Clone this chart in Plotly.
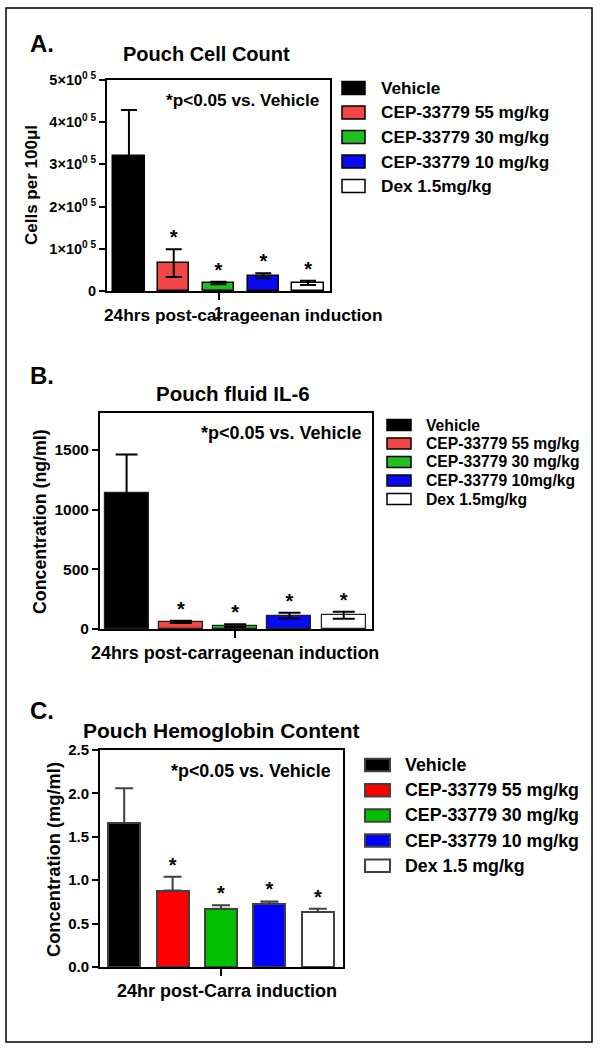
import plotly.graph_objects as go

W, H = 600, 1050
FONT = "Liberation Sans, Arial, Helvetica, sans-serif"

# ---------------- data ----------------
positions = [0, 1, 2, 3, 4]

legend_a = ["Vehicle", "CEP-33779 55 mg/kg", "CEP-33779 30 mg/kg", "CEP-33779 10 mg/kg", "Dex 1.5mg/kg"]
legend_b = ["Vehicle", "CEP-33779 55 mg/kg", "CEP-33779 30 mg/kg", "CEP-33779 10mg/kg", "Dex 1.5mg/kg"]
legend_c = ["Vehicle", "CEP-33779 55 mg/kg", "CEP-33779 30 mg/kg", "CEP-33779 10 mg/kg", "Dex 1.5 mg/kg"]

cells = [3.2e5, 0.66e5, 0.19e5, 0.36e5, 0.19e5]
cells_err = [1.09e5, 0.33e5, 0.03e5, 0.06e5, 0.05e5]
cells_sig = ["", "*", "*", "*", "*"]

il6 = [1140, 60, 28, 112, 115]
il6_err = [322, 10, 12, 25, 30]
il6_sig = ["", "*", "*", "*", "*"]

hb = [1.66, 0.88, 0.67, 0.73, 0.635]
hb_err = [0.40, 0.16, 0.04, 0.025, 0.035]
hb_sig = ["", "*", "*", "*", "*"]

a_ticks = [0, 1e5, 2e5, 3e5, 4e5, 5e5]
a_ticktext = ["0", "1×10<sup>0 5</sup>", "2×10<sup>0 5</sup>", "3×10<sup>0 5</sup>",
              "4×10<sup>0 5</sup>", "5×10<sup>0 5</sup>"]
b_ticks = [0, 500, 1000, 1500]
c_ticks = [0.0, 0.5, 1.0, 1.5, 2.0, 2.5]
c_ticktext = ["0.0", "0.5", "1.0", "1.5", "2.0", "2.5"]

colors_a = ["#000000", "#f24646", "#1fbf1f", "#0a0af2", "#ffffff"]
colors_b = ["#000000", "#f24646", "#1fbf1f", "#0a0af2", "#ffffff"]
colors_c = ["#000000", "#ff0000", "#00c000", "#0000ff", "#ffffff"]


def px(x):
    return x / W


def py(y):
    return 1 - y / H


fig = go.Figure()

panels = [
    dict(ax="", vals=cells, err=cells_err, sig=cells_sig, colors=colors_a, line="#000000",
         lw=1.5, bw=0.7, sym=True, ecol="#000000", capw=8,
         xdom=(107, 330), ydom=(291, 80), xr=[-0.49, 4.49], yr=[0, 5e5],
         ticks=a_ticks, ticktext=a_ticktext, tickfs=14.5, xtick="1"),
    dict(ax="2", vals=il6, err=il6_err, sig=il6_sig, colors=colors_b, line="#222222",
         lw=1.2, bw=0.81, sym=True, ecol="#000000", capw=11,
         xdom=(100, 372), ydom=(629, 413), xr=[-0.49, 4.52], yr=[0, 1810],
         ticks=b_ticks, ticktext=[str(t) for t in b_ticks], tickfs=15.5, xtick=None),
    dict(ax="3", vals=hb, err=hb_err, sig=hb_sig, colors=colors_c, line="#404040",
         lw=2, bw=0.66, sym=False, ecol="#404040", capw=9,
         xdom=(100, 343), ydom=(967, 750), xr=[-0.5, 4.52], yr=[0, 2.5],
         ticks=c_ticks, ticktext=c_ticktext, tickfs=15, xtick=None),
]

layout_axes = {}
for p in panels:
    xa = "x" + p["ax"]
    ya = "y" + p["ax"]
    if p["sym"]:
        ey = dict(type="data", array=p["err"], symmetric=True, color=p["ecol"],
                  thickness=2, width=p["capw"])
    else:
        ey = dict(type="data", array=p["err"], arrayminus=[0] * len(p["err"]),
                  symmetric=False, color=p["ecol"], thickness=2, width=p["capw"])
    fig.add_trace(go.Bar(
        x=positions, y=p["vals"], width=p["bw"], xaxis=xa, yaxis=ya,
        marker=dict(color=p["colors"], line=dict(color=p["line"], width=p["lw"])),
        error_y=ey, showlegend=False, hoverinfo="skip",
    ))
    idx = [i for i, s in enumerate(p["sig"]) if s]
    fig.add_trace(go.Scatter(
        x=[positions[i] for i in idx],
        y=[p["vals"][i] + p["err"][i] for i in idx],
        mode="text", text=[p["sig"][i] for i in idx], textposition="top center",
        textfont=dict(size=20, color="black", family=FONT),
        xaxis=xa, yaxis=ya, showlegend=False, hoverinfo="skip", cliponaxis=False,
    ))
    xaxis = dict(
        domain=[px(p["xdom"][0]), px(p["xdom"][1])], range=p["xr"], anchor=ya,
        showgrid=False, zeroline=False, showline=True, linecolor="black", linewidth=2,
        mirror=True, ticks="outside", tickvals=[2], automargin=False,
        ticklen=7, tickwidth=2, tickcolor="black",
    )
    if p["xtick"]:
        xaxis.update(ticktext=[p["xtick"]],
                     tickfont=dict(size=16, color="black", family=FONT, weight="bold"))
    else:
        xaxis.update(showticklabels=False)
    layout_axes["xaxis" + p["ax"]] = xaxis
    layout_axes["yaxis" + p["ax"]] = dict(
        domain=[py(p["ydom"][0]), py(p["ydom"][1])], range=p["yr"], anchor=xa,
        showgrid=False, zeroline=False, showline=True, linecolor="black", linewidth=2,
        mirror=True, ticks="outside", tickvals=p["ticks"], ticktext=p["ticktext"],
        ticklen=6, tickwidth=2, tickcolor="black", automargin=False,
        tickfont=dict(size=p["tickfs"], color="black", family=FONT, weight="bold"),
    )

fig.update_layout(**layout_axes)

ann = []
shapes = []


def text(x, y, s, size, xanchor="center", yanchor="middle", angle=0):
    ann.append(dict(x=px(x), y=py(y), xref="paper", yref="paper", text=s, showarrow=False,
                    xanchor=xanchor, yanchor=yanchor, textangle=angle,
                    font=dict(size=size, color="black", family=FONT, weight="bold")))


# Panel letters and titles
text(42, 43, "A.", 24)
text(207, 54, "Pouch Cell Count", 20)
text(42, 376, "B.", 24)
text(233, 393, "Pouch fluid IL-6", 20.5)
text(42, 710, "C.", 24)
text(221, 730, "Pouch Hemoglobin Content", 21)

# significance notes
text(321, 100, "*p<0.05 vs. Vehicle", 17.2, xanchor="right")
text(364, 433, "*p<0.05 vs. Vehicle", 18, xanchor="right")
text(333, 771, "*p<0.05 vs. Vehicle", 17.9, xanchor="right")

# axis titles
text(31, 185, "Cells per 100μl", 17, angle=-90)
text(40, 522, "Concentration (ng/ml)", 17.8, angle=-90)
text(53, 860, "Concentration (mg/ml)", 18.3, angle=-90)
text(243, 315, "24hrs post-carrageenan induction", 17.3)
text(235, 653, "24hrs post-carrageenan induction", 17.9)
text(227, 991, "24hr post-Carra induction", 18)

# legends
legends = [
    dict(labels=legend_a, colors=colors_a, line="#000000", lw=1.5, y0=88, step=24.5,
         sx=(342, 365), sh=13, tx=379, fs=17.2),
    dict(labels=legend_b, colors=colors_b, line="#000000", lw=1.5, y0=425, step=18.5,
         sx=(387, 411), sh=11, tx=424, fs=15.7),
    dict(labels=legend_c, colors=colors_c, line="#404040", lw=2, y0=765, step=25.2,
         sx=(365, 390), sh=12.5, tx=403, fs=17.8),
]
for lg in legends:
    for i, (lab, col) in enumerate(zip(lg["labels"], lg["colors"])):
        yc = lg["y0"] + i * lg["step"]
        shapes.append(dict(type="rect", xref="paper", yref="paper",
                           x0=px(lg["sx"][0]), x1=px(lg["sx"][1]),
                           y0=py(yc + lg["sh"] / 2), y1=py(yc - lg["sh"] / 2),
                           fillcolor=col, line=dict(color=lg["line"], width=lg["lw"])))
        text(lg["tx"], yc, lab, lg["fs"], xanchor="left")

# outer frame
shapes.append(dict(type="rect", xref="paper", yref="paper", x0=px(6), x1=px(592),
                   y0=py(1042), y1=py(8), line=dict(color="black", width=1.5)))

fig.update_layout(
    width=W, height=H, margin=dict(l=0, r=0, t=0, b=0, pad=0, autoexpand=False),
    paper_bgcolor="white", plot_bgcolor="white",
    font=dict(family=FONT, color="black", weight="bold"),
    annotations=ann, shapes=shapes, showlegend=False, bargap=0,
)

fig.write_html("out.html", config={"displayModeBar": False},
               post_script="document.body.style.margin='0px';")
